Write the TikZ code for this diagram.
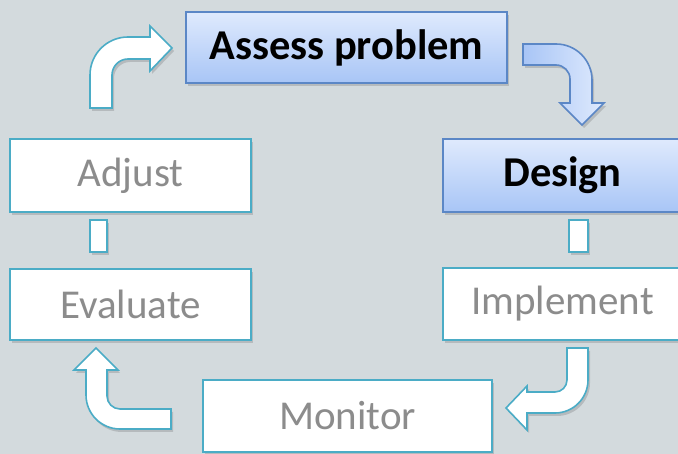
\documentclass[tikz,border=0pt]{standalone}
\usepackage{fontspec}
\setmainfont{Carlito}
\usetikzlibrary{shadows}
\definecolor{bg}{HTML}{D3DADD}
\definecolor{teal}{HTML}{4BACC6}
\definecolor{bluebd}{HTML}{5B87C6}
\definecolor{blueL}{HTML}{DFEAFD}
\definecolor{blueD}{HTML}{A8C5F6}
\definecolor{txtgray}{HTML}{8C8C8C}
\tikzset{
  shad/.style={drop shadow={shadow xshift=2pt,shadow yshift=-3pt,opacity=0.22,fill=black!70}},
  whitebox/.style={draw=teal,line width=2pt,fill=white,shad,inner sep=0pt,
    font=\fontsize{41}{48}\selectfont,text=txtgray},
  bluebox/.style={draw=bluebd,line width=2pt,top color=blueL,bottom color=blueD,shad,inner sep=0pt,
    font=\fontsize{42.5}{48}\selectfont\bfseries,text=black},
  warrow/.style={draw=teal,line width=1.6pt,fill=white,line join=miter,shad},
  barrow/.style={draw=bluebd,line width=1.6pt,left color=blueD,right color=blueL,line join=miter,shad},
  link/.style={draw=teal,line width=2pt,fill=white,shad}
}
\begin{document}
\begin{tikzpicture}[x=1pt,y=-1pt]
\fill[bg] (0,0) rectangle (678,454);
\useasboundingbox (0,0) rectangle (678,454);
\clip (0,0) rectangle (678,454);
% boxes
\node[bluebox,minimum width=321pt,minimum height=71pt] (assess) at (346.5,47.5) {Assess problem};
\node[bluebox,minimum width=239pt,minimum height=73pt] (design) at (562.5,175.5) {Design};
\node[whitebox,minimum width=239pt,minimum height=72pt] (impl) at (562.5,304) {Implement};
\node[whitebox,minimum width=289pt,minimum height=72pt] (monitor) at (347.5,416) {Monitor};
\node[whitebox,minimum width=241pt,minimum height=71pt] (eval) at (130.5,304.5) {Evaluate};
\node[whitebox,minimum width=241pt,minimum height=73pt] (adjust) at (130.5,175.5) {Adjust};
% small links
\node[link,minimum width=17pt,minimum height=32pt,inner sep=0pt] (l1) at (98.5,236) {};
\node[link,minimum width=19pt,minimum height=32pt,inner sep=0pt] (l2) at (578.5,236) {};
% top-left arrow (Adjust -> Assess)
\path[warrow] (90,108) -- (90,75) .. controls (90,54) and (107,37) .. (128,37)
  -- (150,37) -- (150,26) -- (172,48) -- (150,71) -- (150,59) -- (128,59)
  .. controls (119.2,59) and (112,66.2) .. (112,75) -- (112,108) -- cycle;
% top-right arrow (Assess -> Design)
\path[barrow] (523,44) -- (556,44) .. controls (575.9,44) and (592,60.1) .. (592,80)
  -- (592,103) -- (604,103) -- (582,125) -- (560,103) -- (570,103) -- (570,79)
  .. controls (570,71.3) and (563.7,65) .. (556,65) -- (523,65) -- cycle;
% bottom-right arrow (Implement -> Monitor)
\path[warrow] (567,348) -- (588,348) -- (588,380) .. controls (588,398.2) and (573.2,413) .. (555,413)
  -- (527,413) -- (527,430) -- (506,408) -- (527,386) -- (527,392) -- (555,392)
  .. controls (561.6,392) and (567,386.6) .. (567,380) -- cycle;
% bottom-left arrow (Monitor -> Evaluate)
\path[warrow] (171,409) -- (171,429) -- (120,429) .. controls (101.2,429) and (86,413.8) .. (86,395)
  -- (86,370) -- (74,370) -- (96,348) -- (118,370) -- (107,370) -- (107,396)
  .. controls (107,403.2) and (112.8,409) .. (120,409) -- cycle;
\end{tikzpicture}
\end{document}
